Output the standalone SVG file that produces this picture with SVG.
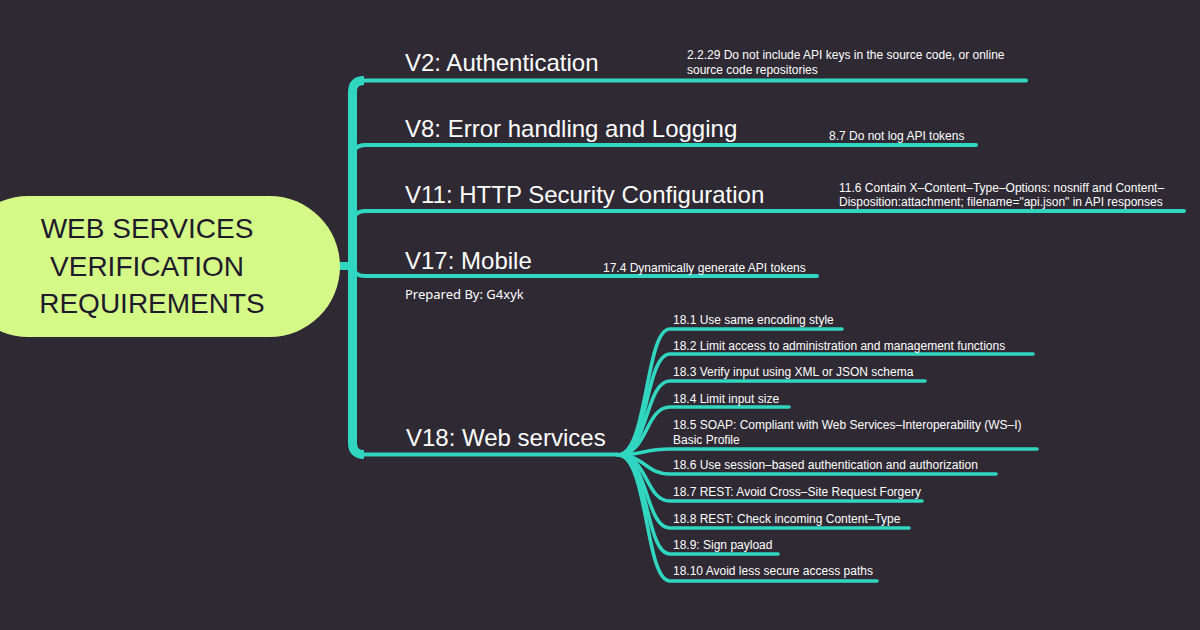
<svg xmlns="http://www.w3.org/2000/svg" width="1200" height="630" viewBox="0 0 1200 630">
<style>
.bg{fill:#2e2933}
.ln{fill:none;stroke:#31d6c1;stroke-width:4;stroke-linecap:round;stroke-linejoin:round}
.fan{fill:none;stroke:#31d6c1;stroke-width:3.6;stroke-linecap:round}
.trunk{fill:none;stroke:#31d6c1;stroke-width:9;stroke-linejoin:round}
.h{font-family:"Liberation Sans",Arial,sans-serif;font-size:24px;fill:#ffffff}
.s{font-family:"Liberation Sans",Arial,sans-serif;font-size:12px;fill:#ffffff}
.c{font-family:"Liberation Sans",Arial,sans-serif;font-size:28px;fill:#1e1a2b;text-anchor:middle}
.p{font-family:"Noto Sans","Open Sans",sans-serif;font-size:13px;fill:#ffffff}
</style>
<rect class="bg" x="0" y="0" width="1200" height="630"/>
<g id="connectors">
  <line x1="330" y1="266" x2="352" y2="266" stroke="#31d6c1" stroke-width="8"/>
  <path class="trunk" d="M352.5 266 V92 Q352.5 80.5 364 80.5"/>
  <path class="trunk" d="M352.5 266 V443 Q352.5 454.5 364 454.5"/>
  <path class="ln" d="M360 80.5 H1026"/>
  <path class="ln" d="M353 157 Q353 145 365 145 H976"/>
  <path class="ln" d="M353 223 Q353 211 365 211 H1184"/>
  <path class="ln" d="M353 264 Q353 276 365 276 H817"/>
  <path class="ln" d="M360 454.5 H618"/>
  <path class="fan" d="M618 455 C648 455 645 329 670 329 H842"/>
  <path class="fan" d="M618 455 C648 455 645 354 670 354 H1033"/>
  <path class="fan" d="M618 455 C648 455 645 381 670 381 H925"/>
  <path class="fan" d="M618 455 C648 455 645 407 670 407 H789"/>
  <path class="fan" d="M618 455 C640 455 645 449 670 449 H1037"/>
  <path class="fan" d="M618 455 C645 455 645 474 670 474 H996"/>
  <path class="fan" d="M618 455 C648 455 645 501 670 501 H922"/>
  <path class="fan" d="M618 455 C648 455 645 528 670 528 H909"/>
  <path class="fan" d="M618 455 C648 455 645 554 670 554 H778"/>
  <path class="fan" d="M618 455 C648 455 645 581 670 581 H877"/>
</g>
<g id="center">
  <rect x="-42" y="196" width="382" height="141" rx="70.5" fill="#d5f987"/>
  <text class="c" x="147" y="238">WEB SERVICES</text>
  <text class="c" x="147" y="276">VERIFICATION</text>
  <text class="c" x="152" y="313">REQUIREMENTS</text>
</g>
<g id="v2">
  <text class="h" x="405" y="71">V2: Authentication</text>
</g>
<g id="v2-leaf">
  <text class="s" x="687" y="59">2.2.29 Do not include API keys in the source code, or online</text>
  <text class="s" x="687" y="74">source code repositories</text>
</g>
<g id="v8">
  <text class="h" x="405" y="137">V8: Error handling and Logging</text>
</g>
<g id="v8-leaf">
  <text class="s" x="829" y="140">8.7 Do not log API tokens</text>
</g>
<g id="v11">
  <text class="h" x="405" y="203">V11: HTTP Security Configuration</text>
</g>
<g id="v11-leaf">
  <text class="s" x="839" y="192">11.6 Contain X–Content–Type–Options: nosniff and Content–</text>
  <text class="s" x="839" y="206">Disposition:attachment; filename="api.json" in API responses</text>
</g>
<g id="v17">
  <text class="h" x="405" y="269">V17: Mobile</text>
</g>
<g id="v17-leaf">
  <text class="s" x="603" y="272">17.4 Dynamically generate API tokens</text>
</g>
<g id="prepared">
  <text class="p" x="405" y="299">Prepared By: G4xyk</text>
</g>
<g id="v18">
  <text class="h" x="406" y="446">V18: Web services</text>
</g>
<g id="v18-leaves">
  <text class="s" x="673" y="324">18.1 Use same encoding style</text>
  <text class="s" x="673" y="350">18.2 Limit access to administration and management functions</text>
  <text class="s" x="673" y="376">18.3 Verify input using XML or JSON schema</text>
  <text class="s" x="673" y="403">18.4 Limit input size</text>
  <text class="s" x="673" y="429">18.5 SOAP: Compliant with Web Services–Interoperability (WS–I)</text>
  <text class="s" x="673" y="444">Basic Profile</text>
  <text class="s" x="673" y="469">18.6 Use session–based authentication and authorization</text>
  <text class="s" x="673" y="496">18.7 REST: Avoid Cross–Site Request Forgery</text>
  <text class="s" x="673" y="523">18.8 REST: Check incoming Content–Type</text>
  <text class="s" x="673" y="549">18.9: Sign payload</text>
  <text class="s" x="673" y="575">18.10 Avoid less secure access paths</text>
</g>
</svg>
